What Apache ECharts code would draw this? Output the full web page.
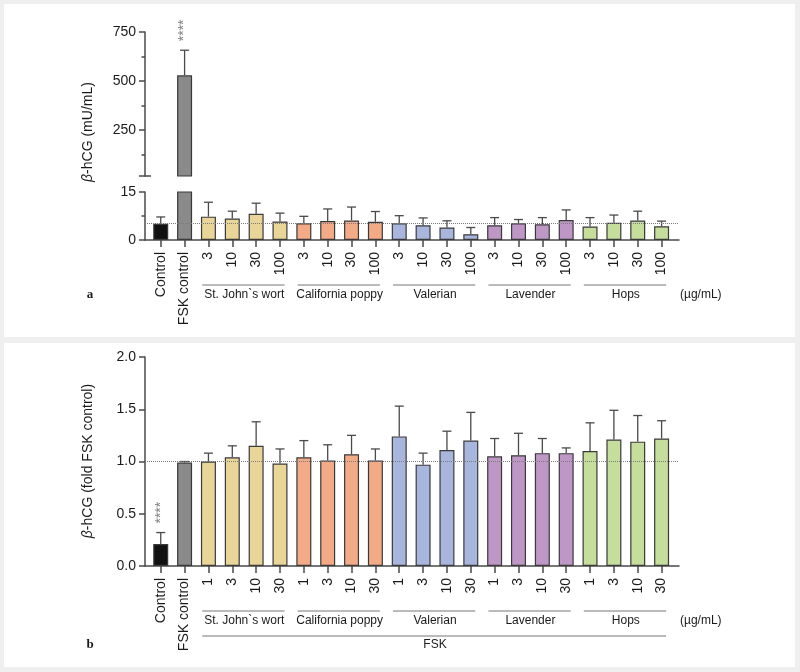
<!DOCTYPE html>
<html>
<head>
<meta charset="utf-8">
<script src="https://cdn.jsdelivr.net/npm/echarts@6/dist/echarts.min.js"></script>
<style>
  html, body { margin: 0; padding: 0; background: #efefef; }
  #wrap { position: relative; width: 800px; height: 672px; }
  .panel { position: absolute; left: 4px; width: 791px; background: #fff; }
  #chart { position: absolute; left: 0; top: 0; width: 800px; height: 672px; }
</style>
</head>
<body>
<div id="wrap">
  <div class="panel" style="top:4px;height:333px"></div>
  <div class="panel" style="top:343px;height:324px"></div>
  <div id="chart"></div>
</div>
<script>
// extracts and their colours
const groups = ['St. John`s wort', 'California poppy', 'Valerian', 'Lavender', 'Hops']
const groupColors = ['#e8d597', '#f3aa86', '#a8b6dd', '#bf97c6', '#c6de9b']
const controls = ['Control', 'FSK control']
const controlColors = ['#111111', '#8a8a8a']
const dosesA = ['3', '10', '30', '100']
const dosesB = ['1', '3', '10', '30']

// panel a: beta-hCG (mU/mL), mean and SD
const meanA = [5.1, 529, 7.3, 6.7, 8.2, 5.8, 5.2, 5.9, 6.1, 5.7, 5.2, 4.6, 3.9, 1.8, 4.6, 5.2, 4.9, 6.25, 4.2, 5.4, 6.1, 4.3]
const sdA = [2.1, 128, 4.5, 2.3, 3.3, 2.6, 2.2, 3.8, 4.2, 3.2, 2.4, 2.3, 2.1, 2.1, 2.4, 1.2, 2.1, 3.15, 2.8, 2.4, 2.9, 1.6]
const starsA = ['', '****']

// panel b: beta-hCG (fold FSK control), mean and SD
const meanB = [0.21, 0.99, 1.00, 1.04, 1.15, 0.98, 1.04, 1.01, 1.07, 1.01, 1.24, 0.97, 1.11, 1.20, 1.05, 1.06, 1.08, 1.08, 1.10, 1.21, 1.19, 1.22]
const sdB = [0.11, 0.01, 0.08, 0.11, 0.23, 0.14, 0.16, 0.15, 0.18, 0.11, 0.29, 0.11, 0.18, 0.27, 0.17, 0.21, 0.14, 0.05, 0.27, 0.28, 0.25, 0.17]
const starsB = ['****']
const refB = 1.0

const ticksUpperA = [250, 500, 750]
const minorUpperA = [125, 375, 625]

const catsA = controls.concat(...groups.map(() => dosesA))
const catsB = controls.concat(...groups.map(() => dosesB))
const colors = controlColors.concat(...groupColors.map(c => [c, c, c, c]))
const catIdx = catsA.map((_, i) => i)

const FONT = 'Liberation Sans'
const INK = '#1a1a1a'
const AXIS = '#4a4a4a'
const X_MIN = -0.66
const X_MAX = 21.73

const chart = echarts.init(document.getElementById('chart'))

const xAxisBase = (gridIndex, cats, show) => ({
  type: 'value',
  gridIndex,
  min: X_MIN,
  max: X_MAX,
  show,
  splitLine: { show: false },
  axisLine: { show: true, onZero: false, lineStyle: { color: AXIS, width: 1.5 } },
  axisTick: { show: true, customValues: catIdx, length: 7, lineStyle: { color: AXIS, width: 1.5 } },
  axisLabel: {
    customValues: catIdx,
    rotate: 90,
    margin: 12,
    fontFamily: FONT,
    fontSize: 14,
    color: INK,
    formatter: v => cats[Math.round(v)]
  }
})

const yLabel = { fontFamily: FONT, fontSize: 14, color: INK, margin: 9 }
const axisLine = { show: true, onZero: false, lineStyle: { color: AXIS, width: 1.5 } }
const noLine = { show: false, onZero: false }
const tickStyle = { color: AXIS, width: 1.5 }

const barSeries = (xi, yi, data, extra) => Object.assign({
  type: 'bar',
  xAxisIndex: xi,
  yAxisIndex: yi,
  barWidth: 15,
  clip: true,
  data,
  itemStyle: {
    color: p => colors[p.value[0]],
    borderColor: '#3a3a3a',
    borderWidth: 1.2
  },
  silent: true
}, extra || {})

const errorSeries = (xi, yi, means, sds, stars, keep, clip) => ({
  type: 'custom',
  xAxisIndex: xi,
  yAxisIndex: yi,
  clip,
  z: 3,
  silent: true,
  data: means.map((m, i) => [i, m, m + sds[i]]).filter(d => keep(d[1])),
  renderItem (params, api) {
    const i = api.value(0)
    const base = api.coord([i, api.value(1)])
    const top = api.coord([i, api.value(2)])
    const st = { stroke: '#4a4a4a', lineWidth: 1.3 }
    const children = [
      { type: 'line', shape: { x1: base[0], y1: base[1], x2: top[0], y2: top[1] }, style: st },
      { type: 'line', shape: { x1: top[0] - 4.5, y1: top[1], x2: top[0] + 4.5, y2: top[1] }, style: st }
    ]
    if (stars[i]) {
      children.push({
        type: 'text',
        x: top[0],
        y: top[1] - 9,
        rotation: Math.PI / 2,
        style: {
          text: stars[i],
          align: 'left',
          verticalAlign: 'middle',
          fill: '#808080',
          font: '14px "Liberation Sans"'
        }
      })
    }
    return { type: 'group', children }
  }
})

const refLine = value => ({
  silent: true,
  symbol: ['none', 'none'],
  label: { show: false },
  lineStyle: { type: 'dotted', color: '#7a7a7a', width: 1 },
  data: [{ yAxis: value }]
})

const option = {
  animation: false,
  textStyle: { fontFamily: FONT },
  grid: [
    { left: 145, right: 121, top: 32, bottom: 496 },
    { left: 145, right: 121, top: 192, bottom: 432 },
    { left: 145, right: 121, top: 357, bottom: 106 }
  ],
  xAxis: [
    xAxisBase(0, catsA, false),
    xAxisBase(1, catsA, true),
    xAxisBase(2, catsB, true)
  ],
  yAxis: [
    // 0: panel a upper segment
    {
      type: 'value', gridIndex: 0, position: 'left', min: 15, max: 750,
      splitLine: { show: false },
      axisLine,
      axisTick: { customValues: [15].concat(ticksUpperA), length: 6, lineStyle: tickStyle },
      axisLabel: Object.assign({ customValues: ticksUpperA }, yLabel)
    },
    // 1: minor ticks of the upper segment
    {
      type: 'value', gridIndex: 0, position: 'left', offset: 0, min: 15, max: 750,
      splitLine: { show: false },
      axisLine: noLine,
      axisLabel: { show: false },
      axisTick: { customValues: minorUpperA, length: 3.5, lineStyle: tickStyle }
    },
    // 2: break cap, inside part
    {
      type: 'value', gridIndex: 0, position: 'left', offset: 0, min: 15, max: 750,
      splitLine: { show: false },
      axisLine: noLine,
      axisLabel: { show: false },
      axisTick: { customValues: [15], inside: true, length: 6, lineStyle: tickStyle }
    },
    // 3: panel a lower segment
    {
      type: 'value', gridIndex: 1, position: 'left', min: 0, max: 15, interval: 15,
      splitLine: { show: false },
      axisLine,
      axisTick: { length: 6, lineStyle: tickStyle },
      minorTick: { show: true, splitNumber: 2, length: 3.5, lineStyle: tickStyle },
      minorSplitLine: { show: false },
      axisLabel: yLabel
    },
    // 4: panel b
    {
      type: 'value', gridIndex: 2, position: 'left', min: 0, max: 2, interval: 0.5,
      splitLine: { show: false },
      axisLine,
      axisTick: { length: 6, lineStyle: tickStyle },
      axisLabel: Object.assign({ formatter: v => v.toFixed(1) }, yLabel)
    }
  ],
  series: [
    barSeries(0, 0, meanA.map((v, i) => [i, v]).filter(d => d[1] > 15)),
    errorSeries(0, 0, meanA, sdA, starsA, v => v > 15, false),
    barSeries(1, 3, meanA.map((v, i) => [i, v]), { markLine: refLine(meanA[0]) }),
    errorSeries(1, 3, meanA, sdA, [], () => true, true),
    barSeries(2, 4, meanB.map((v, i) => [i, v]), { markLine: refLine(refB) }),
    errorSeries(2, 4, meanB, sdB, starsB, () => true, false)
  ]
}

chart.setOption(option)

// group brackets and labels, placed through the x scales
const px = (xi, v) => chart.convertToPixel({ xAxisIndex: xi }, v)
const elements = []
const line = (x1, x2, y) => ({
  type: 'line', silent: true,
  shape: { x1, y1: y, x2, y2: y },
  style: { stroke: '#777', lineWidth: 1 }
})
const text = (x, y, t, extra) => ({
  type: 'text', silent: true, x, y,
  style: Object.assign({
    text: t, align: 'center', verticalAlign: 'middle',
    textAlign: 'center', textVerticalAlign: 'middle',
    fill: INK, font: '12px "Liberation Sans"'
  }, extra || {})
})

const addGroups = (xi, lineY, labelY) => {
  groups.forEach((g, k) => {
    const first = controls.length + k * 4
    const last = first + 3
    elements.push(line(px(xi, first - 0.26), px(xi, last + 0.19), lineY))
    elements.push(text((px(xi, first) + px(xi, last)) / 2, labelY, g))
  })
  elements.push(text(680, labelY, '(µg/mL)', { align: 'left', textAlign: 'left' }))
}
addGroups(1, 285, 295)
addGroups(2, 611, 621)

const fskFirst = controls.length
const fskLast = catsB.length - 1
elements.push(line(px(2, fskFirst - 0.26), px(2, fskLast + 0.19), 636))
elements.push(text((px(2, fskFirst) + px(2, fskLast)) / 2, 645, 'FSK'))

elements.push(text(90, 295, 'a', { font: 'bold 13px "Liberation Serif"' }))
elements.push(text(90, 645, 'b', { font: 'bold 13px "Liberation Serif"' }))

const titleRich = { i: { fontStyle: 'italic', fontSize: 14, fontFamily: FONT, fill: INK } }
const title = (y, t) => ({
  type: 'text', silent: true, x: 88, y, rotation: Math.PI / 2,
  style: {
    text: '{i|β}' + t, rich: titleRich,
    align: 'center', verticalAlign: 'middle',
    textAlign: 'center', textVerticalAlign: 'middle',
    fill: INK, font: '14px "Liberation Sans"'
  }
})
elements.push(title(132, '-hCG (mU/mL)'))
elements.push(title(461, '-hCG (fold FSK control)'))

chart.setOption({ graphic: { elements } })
</script>
</body>
</html>
